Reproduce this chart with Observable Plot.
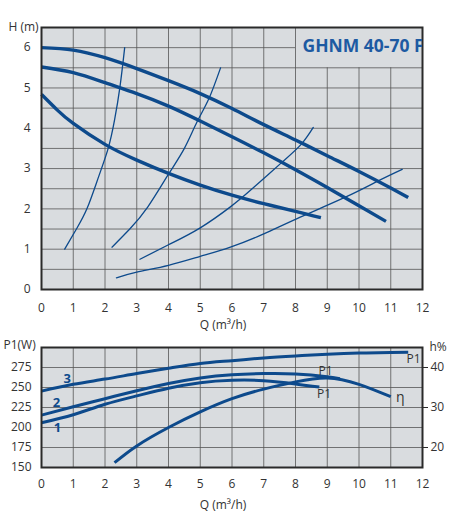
<!DOCTYPE html>
<html><head><meta charset="utf-8">
<script src="https://cdn.jsdelivr.net/npm/d3@7"></script>
<script src="https://cdn.jsdelivr.net/npm/@observablehq/plot@0.6"></script>
<style>
html,body{margin:0;padding:0;background:#fff;}
body{width:453px;height:512px;overflow:hidden;position:relative;font-family:"Open Sans",sans-serif;}
#top,#bot{position:absolute;left:0;}
#top{top:0;} #bot{top:330px;}
svg{display:block;}
</style></head><body>
<div id="top"></div><div id="bot"></div>
<script>
// ---- Top chart: head curves H(Q)
const qTicks = [0,1,2,3,4,5,6,7,8,9,10,11,12];
const qGrid = [1,2,3,4,5,6,7,8,9,10,11];
const hTicks = [0,1,2,3,4,5,6];
const hGrid = [0.5,1,1.5,2,2.5,3,3.5,4,4.5,5,5.5,6];

const headA = [[0,6.0],[1,5.94],[2,5.75],[3,5.48],[4,5.18],[5,4.86],[6,4.49],[7,4.09],[8,3.71],[9,3.32],[10,2.93],[11,2.52],[11.55,2.28]];
const headB = [[0,5.52],[1,5.38],[2,5.13],[3,4.86],[4,4.55],[5,4.18],[6,3.79],[7,3.39],[8,2.97],[9,2.53],[10,2.08],[10.85,1.69]];
const headC = [[0,4.84],[0.5,4.45],[1,4.12],[2,3.60],[3,3.21],[4,2.88],[5,2.59],[6,2.34],[7,2.13],[8,1.94],[8.8,1.78]];

const sys1 = [[0.73,1.0],[1.1,1.5],[1.44,2.02],[1.8,2.8],[2.1,3.5],[2.3,4.2],[2.47,5.02],[2.62,6.0]];
const sys2 = [[2.22,1.05],[2.78,1.5],[3.35,2.05],[4.0,2.86],[4.5,3.5],[4.9,4.16],[5.27,4.73],[5.64,5.5]];
const sys3 = [[3.1,0.75],[4.0,1.11],[5.0,1.53],[5.95,2.05],[6.58,2.46],[7.58,3.16],[8.2,3.62],[8.56,4.02]];
const sys4 = [[2.36,0.29],[3.0,0.43],[4.0,0.6],[5.0,0.82],[5.95,1.05],[7.0,1.38],[8.05,1.76],[9.57,2.29],[10.62,2.70],[11.36,2.98]];

const modelName = "GHNM 40-70 F";

// ---- Bottom chart: power P1(W) and efficiency h%
const pTicks = [150,175,200,225,250,275];
const pGrid = [175,200,225,250,275];
const etaTicks = [20,30,40];

const power3 = [[0,245.5],[1,254],[2,260.5],[3,267.5],[4,274],[5,280],[6,283.5],[7,287],[8,289.5],[9,291.5],[10,293],[11,293.8],[11.55,294]];
const power2 = [[0,215.5],[1,226],[2,236],[3,246],[4,255],[5,262],[6,266],[7,267.5],[8,267],[9,263.5],[9.4,261]];
const power1 = [[0,206],[1,216],[2,229],[3,239.5],[4,249],[5,256],[6,259],[7,258.5],[8,254.5],[8.75,250.5]];
const etaPct = [[2.3,16.2],[3,20.4],[4,25.0],[5,28.9],[6,32.2],[7,34.6],[8,36.4],[9,37.4],[10,35.8],[11,32.7]];

const BLUE = "#0d4a8c";
const BG = "#d9dcdf";
const GRID = "#555";
const TXT = "#333";
const FONT = "'Open Sans', sans-serif";

const X = d => d[0], Y = d => d[1];
const etaToW = p => 175 + (p - 20) * 5;
const wToEta = w => 20 + (w - 175) / 5;
const CURVE = "natural";

const topPlot = Plot.plot({
  width: 453, height: 330,
  marginLeft: 41, marginRight: 31, marginTop: 27, marginBottom: 41,
  x: {domain: [0, 12]},
  y: {domain: [0, 6.5]},
  style: {fontFamily: FONT, fontSize: "12px", color: TXT, background: "transparent", overflow: "visible"},
  marks: [
    Plot.frame({fill: BG, stroke: null}),
    Plot.ruleX(qGrid, {x: d => d, y1: 0, y2: d => d > 8 ? 5.5 : 6.5, stroke: GRID, strokeWidth: 0.8}),
    Plot.ruleY(hGrid, {y: d => d, x1: 0, x2: d => d > 5.5 ? 8 : 12, stroke: GRID, strokeWidth: 0.8}),
    Plot.line(sys1, {x: X, y: Y, curve: CURVE, stroke: BLUE, strokeWidth: 1.3}),
    Plot.line(sys2, {x: X, y: Y, curve: CURVE, stroke: BLUE, strokeWidth: 1.3}),
    Plot.line(sys3, {x: X, y: Y, curve: CURVE, stroke: BLUE, strokeWidth: 1.3}),
    Plot.line(sys4, {x: X, y: Y, curve: CURVE, stroke: BLUE, strokeWidth: 1.3}),
    Plot.line(headA, {x: X, y: Y, curve: CURVE, stroke: BLUE, strokeWidth: 3.4, strokeLinecap: "butt"}),
    Plot.line(headB, {x: X, y: Y, curve: CURVE, stroke: BLUE, strokeWidth: 3.4, strokeLinecap: "butt"}),
    Plot.line(headC, {x: X, y: Y, curve: CURVE, stroke: BLUE, strokeWidth: 3.4, strokeLinecap: "butt"}),
    Plot.axisX({ticks: qTicks, tickFormat: d => String(d), tickSize: 0, tickPadding: 14, label: null, fontSize: 12, fill: TXT}),
    Plot.axisY({ticks: hTicks, tickFormat: d => String(d), tickSize: 0, tickPadding: 11, label: null, fontSize: 12, fill: TXT}),
    Plot.frame({stroke: "#2a2a2a", strokeWidth: 2}),
    Plot.text([modelName], {x: 8, y: 6, dx: 7, dy: -1, text: d => d, textAnchor: "start", lineAnchor: "middle",
      fontSize: 17.5, fontWeight: "bold", fill: "#1d5aa2", clip: true}),
    Plot.text(["H (m)"], {frameAnchor: "top-left", dx: -33, dy: 0, text: d => d, textAnchor: "start", lineAnchor: "middle", fontSize: 12, fill: TXT}),
    Plot.text(["Q (m³/h)"], {frameAnchor: "bottom", dx: -9, dy: 36, text: d => d, lineAnchor: "middle", fontSize: 12, fill: TXT})
  ]
});
document.getElementById("top").appendChild(topPlot);

const botPlot = Plot.plot({
  width: 453, height: 182,
  marginLeft: 41, marginRight: 31, marginTop: 17, marginBottom: 45,
  x: {domain: [0, 12]},
  y: {domain: [150, 300]},
  style: {fontFamily: FONT, fontSize: "12px", color: TXT, background: "transparent", overflow: "visible"},
  marks: [
    Plot.frame({fill: BG, stroke: null}),
    Plot.ruleX(qGrid, {x: d => d, stroke: GRID, strokeWidth: 0.8}),
    Plot.ruleY(pGrid, {y: d => d, stroke: GRID, strokeWidth: 0.8}),
    Plot.line(etaPct, {x: X, y: d => etaToW(d[1]), curve: CURVE, stroke: BLUE, strokeWidth: 3, strokeLinecap: "butt"}),
    Plot.line(power1, {x: X, y: Y, curve: CURVE, stroke: BLUE, strokeWidth: 3, strokeLinecap: "butt"}),
    Plot.line(power2, {x: X, y: Y, curve: CURVE, stroke: BLUE, strokeWidth: 3, strokeLinecap: "butt"}),
    Plot.line(power3, {x: X, y: Y, curve: CURVE, stroke: BLUE, strokeWidth: 3, strokeLinecap: "butt"}),
    Plot.axisX({ticks: qTicks, tickFormat: d => String(d), tickSize: 0, tickPadding: 12, label: null, fontSize: 12, fill: TXT}),
    Plot.axisY({ticks: pTicks, tickFormat: d => String(d), tickSize: 0, tickPadding: 10, label: null, fontSize: 12, fill: TXT}),
    Plot.axisY({anchor: "right", ticks: etaTicks.map(etaToW), tickFormat: d => String(Math.round(wToEta(d))),
      tickSize: 5, tickPadding: 3, label: null, fontSize: 12, fill: TXT, stroke: "#2a2a2a"}),
    Plot.frame({stroke: "#2a2a2a", strokeWidth: 2}),
    Plot.text([{x: 0.81, y: 261, t: "3"}, {x: 0.47, y: 231, t: "2"}, {x: 0.5, y: 200, t: "1"}],
      {x: "x", y: "y", text: "t", fontSize: 13, fontWeight: "bold", fill: BLUE}),
    Plot.text([{x: 11.72, y: 285.5, t: "P1"}, {x: 8.95, y: 270.5, t: "P1"}, {x: 8.9, y: 241.5, t: "P1"}],
      {x: "x", y: "y", text: "t", fontSize: 12, fill: TXT}),
    Plot.text([{x: 11.3, y: 238, t: "η"}], {x: "x", y: "y", text: "t", fontSize: 14, fill: TXT}),
    Plot.text(["P1(W)"], {frameAnchor: "top-left", dx: -38, dy: -2, text: d => d, textAnchor: "start", lineAnchor: "middle", fontSize: 12, fill: TXT}),
    Plot.text(["h%"], {frameAnchor: "top-right", dx: 7, dy: 0, text: d => d, textAnchor: "start", lineAnchor: "middle", fontSize: 12, fill: TXT}),
    Plot.text(["Q (m³/h)"], {frameAnchor: "bottom", dx: -9, dy: 38, text: d => d, lineAnchor: "middle", fontSize: 12, fill: TXT})
  ]
});
document.getElementById("bot").appendChild(botPlot);
</script>
</body></html>
